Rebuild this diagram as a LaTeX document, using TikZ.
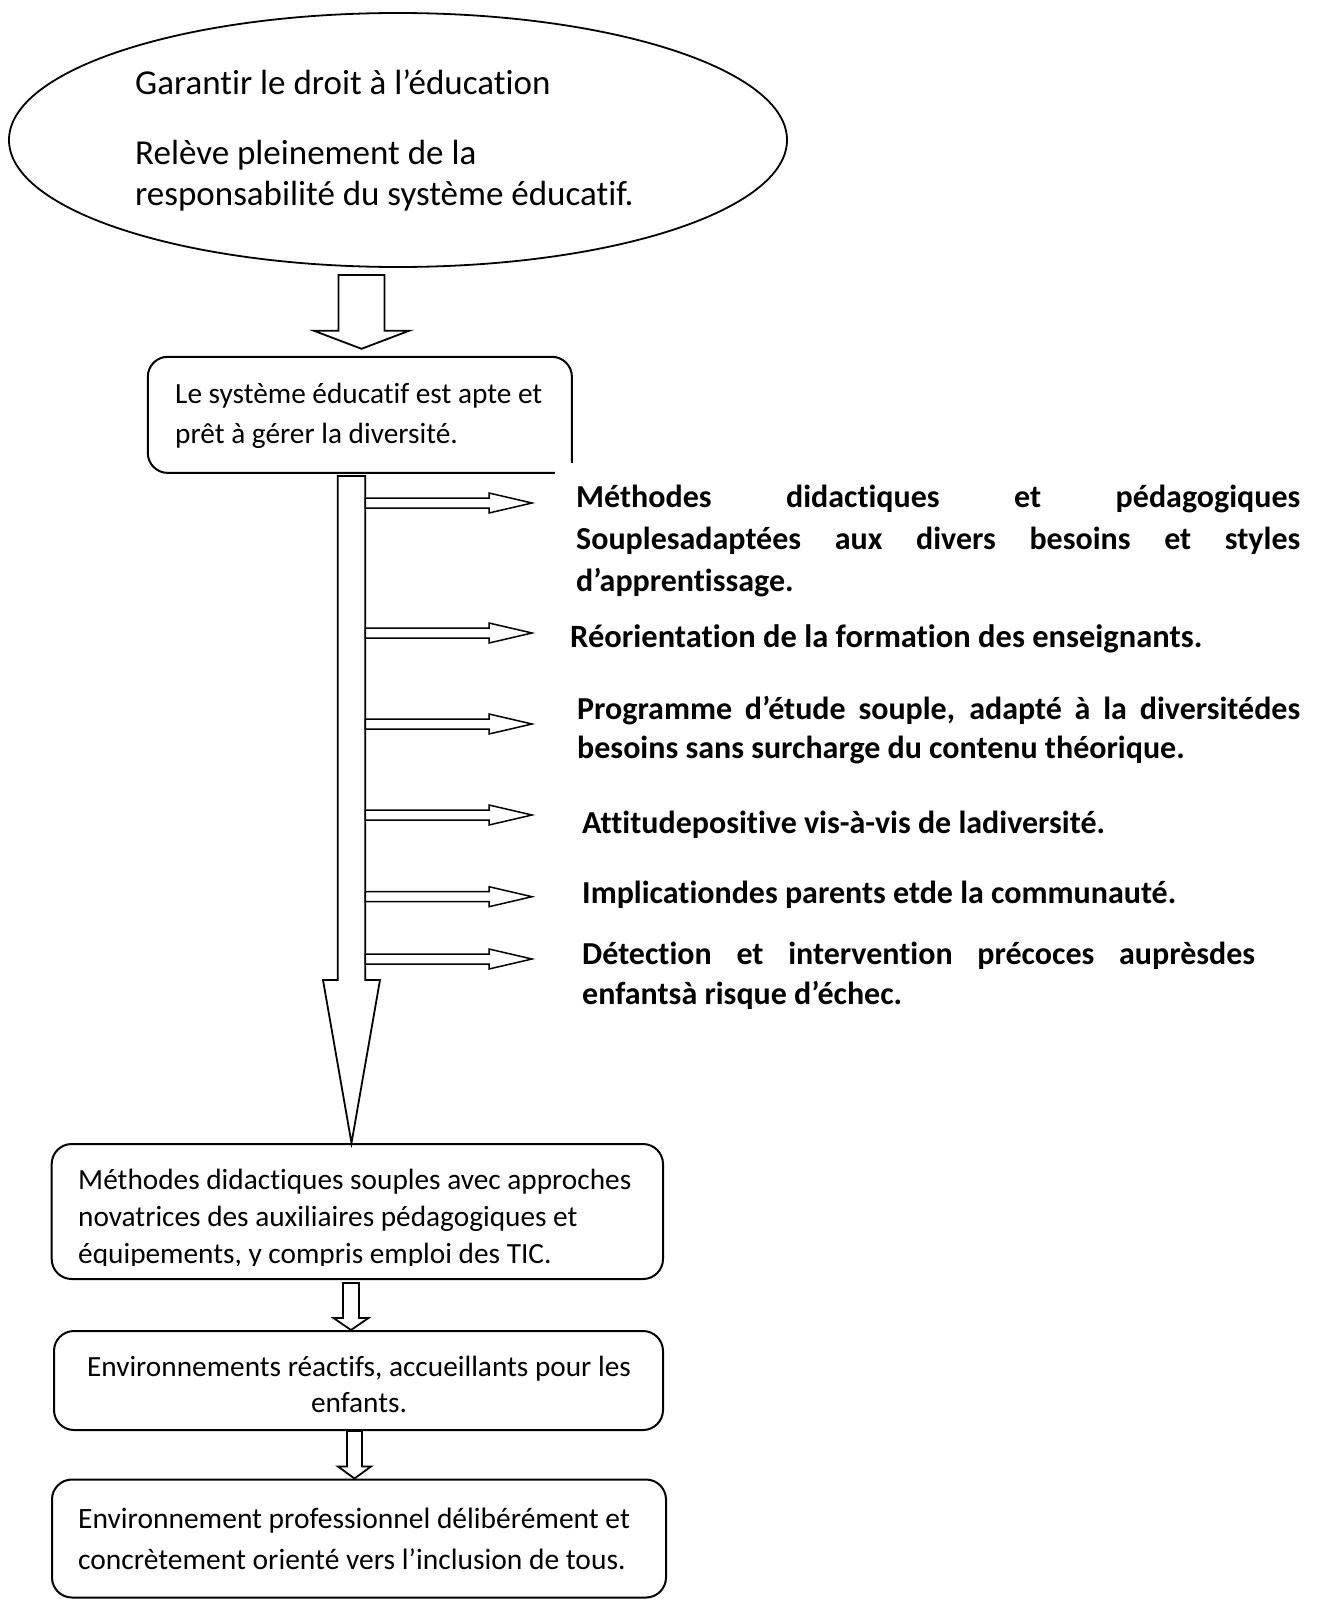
\documentclass[tikz,border=0pt]{standalone}
\usepackage{fontspec}
\setmainfont{Carlito}[Ligatures={NoCommon,NoContextual}]
\usetikzlibrary{calc,shapes.geometric}
\tikzset{
  outline/.style={draw=black, line width=2pt},
  rbox/.style={outline, rounded corners=20pt, inner sep=0pt},
  blk/.style={draw=black, line width=1.8pt, fill=white, line join=miter},
  thin blk/.style={draw=black, line width=1.5pt, fill=white, line join=miter},
  downarrow/.style n args={3}{to path={let \p1=(\tikztostart),\p2=(\tikztotarget) in
    (\x1-#1,\y1) -- (\x1-#1,\y2+#3) -- (\x1-#2,\y2+#3) -- (\x1,\y2) -- (\x1+#2,\y2+#3) -- (\x1+#1,\y2+#3) -- (\x1+#1,\y1) -- cycle}},
  rightarrow/.style n args={3}{to path={let \p1=(\tikztostart),\p2=(\tikztotarget) in
    (\x1,\y1+#1) -- (\x2-#3,\y1+#1) -- (\x2-#3,\y1+#2) -- (\x2,\y1) -- (\x2-#3,\y1-#2) -- (\x2-#3,\y1-#1) -- (\x1,\y1-#1) -- cycle}},
  bodytext/.style={inner sep=0pt, align=left, anchor=west, font=\fontsize{29.3}{37}\selectfont},
  sidetext/.style={inner sep=0pt, align=left, anchor=west, font=\fontsize{32}{42}\selectfont\bfseries},
}
\begin{document}
\begin{tikzpicture}[x=1pt,y=-1pt]
\useasboundingbox (0,0) rectangle (1319,1600);

% top ellipse
\node[draw=black, line width=1.8pt, ellipse, minimum width=778pt, minimum height=254pt, inner sep=0pt] (goal) at (398,140) {};
\node[inner sep=0pt, align=left, anchor=west, font=\fontsize{35}{41}\selectfont] (goaltext) at (135,140)
  {Garantir le droit à l’éducation\\[29pt]Relève pleinement de la\\responsabilité du système éducatif.};

% box 1 (bottom-right corner left open)
\node[inner sep=0pt, minimum width=423.7pt, minimum height=115.7pt] (box1) at (359.85,414.85) {};
\draw[outline, rounded corners=20pt] ($(box1.south east)+(-17,0)$) -- (box1.south west) -- (box1.north west) -- (box1.north east) -- ($(box1.south east)+(0,-10)$);
\node[inner sep=0pt, align=left, anchor=west, font=\fontsize{29.3}{40}\selectfont] (box1text) at (175,416)
  {Le système éducatif est apte et\\prêt à gérer la diversité.};

% arrow ellipse -> box1
\coordinate (a1s) at (361.5,275);
\draw[blk] (a1s) to[downarrow={23pt}{47.5pt}{18pt}] ($(a1s |- box1.north)+(0,-8)$);

% lower boxes
\node[rbox, minimum width=611.3pt, minimum height=135pt] (box2) at (357.35,1211.5) {};
\node[rbox, minimum width=609pt, minimum height=99pt] (box3) at (358.5,1380.5) {};
\node[rbox, minimum width=614pt, minimum height=118pt] (box4) at (359,1538.5) {};

% main vertical arrow
\coordinate (ms) at (351.5,476);
\draw[blk] (ms) to[downarrow={13.8pt}{28.5pt}{163pt}] (ms |- box2.north);

% side arrows
\foreach \yy [count=\i] in {503,633,724,815,896.7,959} {
  \coordinate (s\i) at (365.3,\yy);
  \coordinate (e\i) at (532,\yy);
  \draw[thin blk] (s\i) to[rightarrow={5pt}{10pt}{43pt}] (e\i);
}

% side texts
\node[sidetext] (t1) at (576,541)
  {\makebox[724pt][s]{Méthodes didactiques et pédagogiques}\\
   \makebox[724pt][s]{Souplesadaptées aux divers besoins et styles}\\
   d’apprentissage.};
\node[sidetext, font=\fontsize{32.5}{42}\selectfont\bfseries] (t2) at (570,639) {Réorientation de la formation des enseignants.};
\node[sidetext, font=\fontsize{32}{39.5}\selectfont\bfseries] (t3) at (577,730)
  {\makebox[723pt][s]{Programme d’étude souple, adapté à la diversitédes}\\
   besoins sans surcharge du contenu théorique.};
\node[sidetext] (t4) at (582,825) {Attitudepositive vis-à-vis de ladiversité.};
\node[sidetext] (t5) at (582,895) {Implicationdes parents etde la communauté.};
\node[sidetext, font=\fontsize{32}{40}\selectfont\bfseries] (t6) at (582,976)
  {\makebox[673pt][s]{Détection et intervention précoces auprèsdes}\\
   enfantsà risque d’échec.};

% small arrows between lower boxes
\coordinate (a2s) at (351,1283);
\draw[blk] (a2s) to[downarrow={8pt}{17.5pt}{12pt}] (a2s |- box3.north);
\coordinate (a3s) at (354.5,1431);
\draw[blk] (a3s) to[downarrow={7.5pt}{16.5pt}{12pt}] (a3s |- box4.north);

% box texts
\begin{scope}
\clip (0,1100) rectangle (700,1265);
\node[bodytext] (box2text) at (78,1219)
  {Méthodes didactiques souples avec approches\\novatrices des auxiliaires pédagogiques et\\équipements, y compris emploi des TIC.};
\end{scope}
\node[inner sep=0pt, align=center, font=\fontsize{29.3}{36}\selectfont] (box3text) at (359,1384)
  {Environnements réactifs, accueillants pour les\\enfants.};
\node[bodytext, font=\fontsize{29.5}{41}\selectfont] (box4text) at (78,1539)
  {Environnement professionnel délibérément et\\concrètement orienté vers l’inclusion de tous.};
\end{tikzpicture}
\end{document}
